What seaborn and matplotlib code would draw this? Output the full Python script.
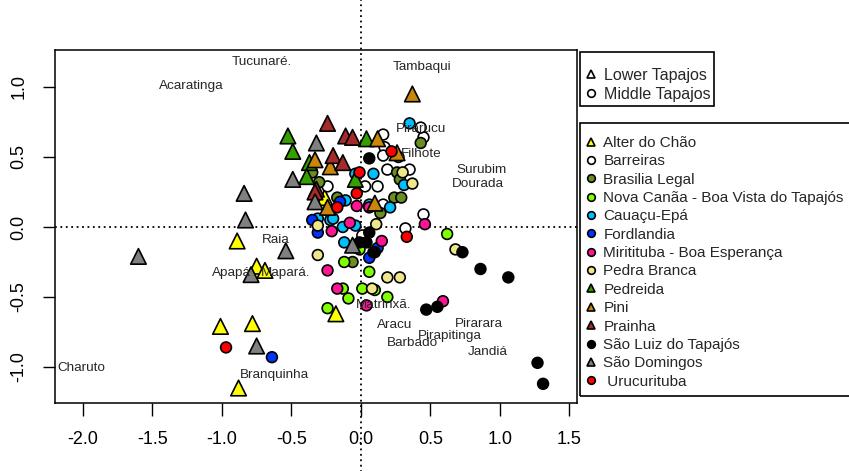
import numpy as np
import pandas as pd
import matplotlib
matplotlib.use("Agg")
import matplotlib.pyplot as plt
import matplotlib.patches as mpatches
import seaborn as sns
from matplotlib.lines import Line2D

sns.set_style("white")
plt.rcParams["font.family"] = ["Liberation Sans", "DejaVu Sans"]

# ---------------- data ----------------
sites = ["Alter do Chão", "Barreiras", "Brasilia Legal",
         "Nova Canãa - Boa Vista do Tapajós", "Cauaçu-Epá", "Fordlandia",
         "Miritituba - Boa Esperança", "Pedra Branca", "Pedreida", "Pini",
         "Prainha", "São Luiz do Tapajós", "São Domingos", "Urucurituba"]
regions = ["Lower", "Middle", "Middle", "Middle", "Middle", "Middle", "Middle",
           "Middle", "Lower", "Lower", "Lower", "Middle", "Lower", "Middle"]
colors = ["#ffff00", "#ffffff", "#6b8e23", "#7fff00", "#00bfff", "#0033ff",
          "#ff1493", "#f0e68c", "#33a000", "#c8860b", "#a52a2a", "#000000",
          "#808080", "#ff0000"]

alter_x = [-0.89, -0.75, -0.69, -1.01, -0.78, -0.88, -0.18, -0.26]
alter_y = [-0.10, -0.28, -0.31, -0.71, -0.69, -1.15, -0.62, 0.21]
barreiras_x = [0.16, 0.17, 0.16, 0.45, 0.43, 0.35, 0.19, 0.03, 0.12, -0.24, 0.45, 0.32, 0.16, 0.01]
barreiras_y = [0.66, 0.57, 0.51, 0.64, 0.71, 0.41, 0.41, 0.29, 0.29, 0.29, 0.09, -0.01, 0.16, -0.06]
brasilia_x = [0.43, 0.27, 0.26, 0.28, 0.24, 0.29, 0.14, -0.35, -0.30, -0.17, -0.06]
brasilia_y = [0.60, 0.50, 0.39, 0.34, 0.21, 0.21, 0.10, 0.39, 0.32, 0.21, -0.25]
nova_x = [0.62, 0.06, 0.01, 0.10, 0.19, -0.12, -0.13, -0.09, -0.24, -0.01]
nova_y = [-0.05, -0.32, -0.44, -0.45, -0.50, -0.25, -0.44, -0.51, -0.58, -0.16]
cauacu_x = [0.35, -0.04, 0.09, 0.31, -0.11, 0.21, -0.31, -0.22, -0.13, -0.04, -0.12, -0.20, 0.06]
cauacu_y = [0.74, 0.38, 0.38, 0.30, 0.19, 0.14, 0.06, 0.05, 0.00, 0.01, -0.11, 0.06, 0.16]
ford_x = [-0.64, -0.35, -0.31, 0.06, 0.12, -0.15]
ford_y = [-0.93, 0.05, -0.04, -0.22, -0.15, 0.18]
miri_x = [0.59, -0.24, -0.17, 0.04, 0.46, 0.15, -0.21, -0.08, -0.03, 0.06]
miri_y = [-0.53, -0.31, -0.44, -0.56, 0.02, -0.10, -0.03, 0.03, 0.15, 0.14]
pedra_x = [0.30, 0.37, 0.11, 0.19, 0.28, -0.31, 0.08, 0.68, -0.31]
pedra_y = [0.39, 0.31, 0.02, -0.36, -0.36, -0.20, -0.44, -0.16, 0.01]
pedreida_x = [-0.525, -0.49, -0.37, -0.39, 0.04, -0.04]
pedreida_y = [0.65, 0.54, 0.46, 0.36, 0.63, 0.34]
pini_x = [0.37, 0.12, 0.26, -0.33, -0.22, -0.24, 0.10]
pini_y = [0.95, 0.63, 0.53, 0.48, 0.43, 0.14, 0.17]
prainha_x = [-0.24, -0.11, -0.06, -0.20, -0.13, -0.32, -0.33]
prainha_y = [0.74, 0.65, 0.64, 0.51, 0.46, 0.27, 0.25]
luiz_x = [0.06, 0.06, 0.09, -0.01, 0.04, 0.10, 0.73, 0.86, 1.06, 1.27, 1.31, 0.47, 0.55]
luiz_y = [0.49, -0.04, -0.18, -0.11, -0.11, -0.18, -0.18, -0.30, -0.36, -0.97, -1.12, -0.59, -0.57]
domingos_x = [-1.60, -0.84, -0.83, -0.79, -0.54, -0.75, -0.32, -0.49, -0.33, -0.06]
domingos_y = [-0.21, 0.24, 0.05, -0.34, -0.17, -0.85, 0.60, 0.34, 0.18, -0.13]
uru_x = [0.22, 0.33, -0.97, -0.17, -0.03, -0.01]
uru_y = [0.54, -0.07, -0.86, 0.14, 0.24, 0.39]

fish_names = ["Tucunaré.", "Acaratinga", "Tambaqui", "Pirarucu", "Filhote",
              "Surubim", "Dourada", "Raia", "Apapá", "Mapará.", "Matrinxã.",
              "Aracu", "Barbado", "Pirapitinga", "Pirarara", "Jandiá",
              "Charuto", "Branquinha"]
fish_x = [-0.71, -1.22, 0.44, 0.43, 0.43, 0.87, 0.84, -0.61, -0.93, -0.54,
          0.16, 0.24, 0.37, 0.64, 0.85, 0.91, -2.01, -0.62]
fish_y = [1.18, 1.01, 1.14, 0.70, 0.52, 0.41, 0.31, -0.09, -0.33, -0.33,
          -0.56, -0.70, -0.83, -0.78, -0.69, -0.89, -1.01, -1.06]

xticks = [-2.0, -1.5, -1.0, -0.5, 0.0, 0.5, 1.0, 1.5]
yticks = [-1.0, -0.5, 0.0, 0.5, 1.0]

# ---------------- build table ----------------
xs = [alter_x, barreiras_x, brasilia_x, nova_x, cauacu_x, ford_x, miri_x,
      pedra_x, pedreida_x, pini_x, prainha_x, luiz_x, domingos_x, uru_x]
ys = [alter_y, barreiras_y, brasilia_y, nova_y, cauacu_y, ford_y, miri_y,
      pedra_y, pedreida_y, pini_y, prainha_y, luiz_y, domingos_y, uru_y]
rows = []
for s, r, xv, yv in zip(sites, regions, xs, ys):
    for a, b in zip(xv, yv):
        rows.append((s, r, a, b))
df = pd.DataFrame(rows, columns=["site", "region", "x", "y"])
palette = dict(zip(sites, colors))

# ---------------- figure ----------------
W, H = 849, 471
fig = plt.figure(figsize=(8.49, 4.71), dpi=100)
ax = fig.add_axes([55 / W, 1 - 403 / H, (577 - 55) / W, (403 - 50) / H])

sns.scatterplot(data=df, x="x", y="y", hue="site", palette=palette,
                style="region", markers={"Lower": "^", "Middle": "o"},
                size="region", sizes={"Lower": 125, "Middle": 60},
                edgecolor="black", linewidth=1.2, alpha=1, legend=False,
                ax=ax, zorder=3)

ax.axhline(0, color="black", ls=(0, (1, 2)), lw=1.3, zorder=1)
ax.axvline(0, ymin=-0.2, ymax=1.2, color="black", ls=(0, (1, 2)), lw=1.3,
           clip_on=False, zorder=1)

for n, a, b in zip(fish_names, fish_x, fish_y):
    ax.text(a, b, n, fontsize=9.7, color="#262626", ha="center", va="center",
            zorder=5)

ax.set_xlim(-2.2, 1.554)
ax.set_ylim(-1.257, 1.264)
ax.set_xticks(xticks)
ax.set_xticklabels([f"{t:.1f}" for t in xticks])
ax.set_yticks(yticks)
ax.set_yticklabels([f"{t:.1f}" for t in yticks], rotation=90, va="center")
ax.set_xlabel("")
ax.set_ylabel("")
ax.tick_params(axis="both", direction="out", length=9, width=1, pad=11,
               labelsize=13, bottom=True, left=True, color="black",
               labelcolor="black")
for sp in ax.spines.values():
    sp.set_color("black")
    sp.set_linewidth(1.1)

# ---------------- legends ----------------
def box(x0, y0, x1, y1):
    fig.patches.append(mpatches.Rectangle(
        (x0 / W, 1 - y1 / H), (x1 - x0) / W, (y1 - y0) / H,
        transform=fig.transFigure, fill=False, edgecolor="black",
        linewidth=1.2, clip_on=False))

h1 = [Line2D([], [], ls="none", marker="^", markersize=6, markerfacecolor="white",
             markeredgecolor="black", markeredgewidth=1.2),
      Line2D([], [], ls="none", marker="o", markersize=5.5, markerfacecolor="white",
             markeredgecolor="black", markeredgewidth=1.2)]
leg1 = fig.legend(h1, ["Lower Tapajos", "Middle Tapajos"], loc="upper left",
                  bbox_to_anchor=(586 / W, 1 - 68 / H), borderaxespad=0,
                  borderpad=0, fontsize=11.5, frameon=False,
                  handlelength=0.6, handletextpad=0.52, labelspacing=0.25)
box(580, 52, 714, 106)

h2 = [Line2D([], [], ls="none", marker="^" if r == "Lower" else "o",
             markersize=6 if r == "Lower" else 5.5, markerfacecolor=c,
             markeredgecolor="black", markeredgewidth=1.2)
      for r, c in zip(regions, colors)]
labels2 = [s if s != "Urucurituba" else " Urucurituba" for s in sites]
leg2 = fig.legend(h2, labels2, loc="upper left",
                  bbox_to_anchor=(586 / W, 1 - 136 / H), borderaxespad=0,
                  borderpad=0, fontsize=11, frameon=False,
                  handlelength=0.62, handletextpad=0.52, labelspacing=0.285)
box(580, 123, 860, 396)

fig.savefig("out.png", dpi=100)
